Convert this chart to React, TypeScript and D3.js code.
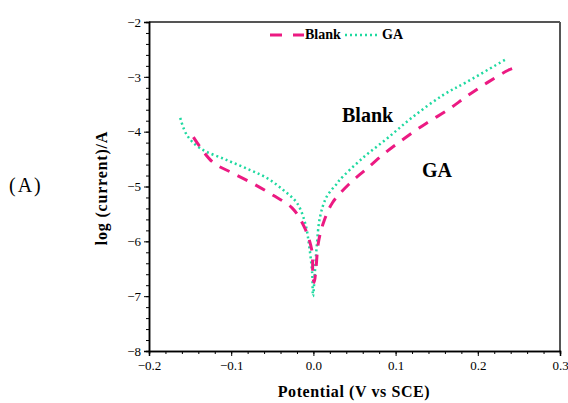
import React, { useRef, useEffect } from "react";
import * as d3 from "d3";

// Blank (dashed magenta): potential (V) / log(current)
const blankE = [-0.146, -0.123, -0.099, -0.073, -0.049, -0.026, -0.011, -0.002, -0.0005, 0.001, 0.003, 0.006, 0.012, 0.023, 0.0445, 0.063, 0.087, 0.111, 0.138, 0.164, 0.187, 0.211, 0.237, 0.244];
const blankLog = [-4.1, -4.55, -4.75, -4.95, -5.16, -5.39, -5.74, -6.16, -6.67, -6.75, -6.52, -6.03, -5.67, -5.3, -4.94, -4.7, -4.39, -4.12, -3.84, -3.6, -3.35, -3.11, -2.88, -2.84];

// GA (dotted green)
const gaE = [-0.162, -0.154, -0.138, -0.105, -0.077, -0.056, -0.037, -0.02, -0.01, -0.005, -0.0015, -0.0005, 0.002, 0.004, 0.008, 0.016, 0.029, 0.032, 0.06, 0.09, 0.121, 0.158, 0.187, 0.233];
const gaLog = [-3.75, -4.06, -4.3, -4.52, -4.7, -4.85, -5.06, -5.3, -5.67, -6.1, -6.58, -7.0, -6.52, -6.1, -5.56, -5.19, -4.94, -4.88, -4.48, -4.12, -3.73, -3.33, -3.09, -2.69];

const xTicks = [-0.2, -0.1, 0.0, 0.1, 0.2, 0.3];
const yTicks = [-2, -3, -4, -5, -6, -7, -8];

const W = 568;
const H = 403;
const serif = "'Liberation Serif', 'Times New Roman', serif";

export default function App() {
  const ref = useRef<SVGSVGElement>(null);

  useEffect(() => {
    const svg = d3.select(ref.current).html("");

    const x = d3.scaleLinear().domain([-0.2, 0.3]).range([149, 560]);
    const y = d3.scaleLinear().domain([-8, -2]).range([351, 22]);

    // frame top/right
    svg.append("line").attr("x1", 149).attr("x2", 560).attr("y1", 22).attr("y2", 22)
      .attr("stroke", "#555").attr("stroke-width", 2);
    svg.append("line").attr("x1", 560).attr("x2", 560).attr("y1", 22).attr("y2", 351)
      .attr("stroke", "#555").attr("stroke-width", 2);

    // x axis
    const xAxis = svg.append("g").attr("transform", `translate(0,351)`);
    xAxis.call(d3.axisBottom(x).tickValues(d3.range(-0.2, 0.3001, 0.02)).tickSize(3).tickFormat(() => ""));
    xAxis.append("g").call(
      d3.axisBottom(x).tickValues(xTicks).tickSize(5).tickFormat(d3.format(".1f"))
    );
    xAxis.selectAll(".domain").attr("stroke-width", 1.5);
    xAxis.selectAll("text").attr("font-family", serif).attr("font-size", 13).attr("fill", "#000").attr("dy", "0.85em");

    // y axis
    const yAxis = svg.append("g").attr("transform", `translate(149,0)`);
    yAxis.call(d3.axisLeft(y).tickValues(d3.range(-8, -1.999, 0.2)).tickSize(3).tickFormat(() => ""));
    yAxis.append("g").call(
      d3.axisLeft(y).tickValues(yTicks).tickSize(5).tickFormat(d3.format("d"))
    );
    yAxis.selectAll(".domain").attr("stroke-width", 1.5);
    yAxis.selectAll("text").attr("font-family", serif).attr("font-size", 13).attr("fill", "#000");

    const lineX = d3.line<[number, number]>().x((d) => x(d[0])).y((d) => y(d[1])).curve(d3.curveCatmullRom);

    const blank = blankE.map((e, i) => [e, blankLog[i]] as [number, number]);
    const ga = gaE.map((e, i) => [e, gaLog[i]] as [number, number]);

    svg.append("path").attr("d", lineX(ga)).attr("fill", "none")
      .attr("stroke", "#1fd9a0").attr("stroke-width", 2.5)
      .attr("stroke-dasharray", "2 3");
    svg.append("path").attr("d", lineX(blank)).attr("fill", "none")
      .attr("stroke", "#ec1a82").attr("stroke-width", 3)
      .attr("stroke-dasharray", "11 9");

    // legend
    svg.append("line").attr("x1", 270).attr("x2", 304).attr("y1", 35).attr("y2", 35)
      .attr("stroke", "#ec1a82").attr("stroke-width", 3).attr("stroke-dasharray", "12 11");
    svg.append("text").attr("x", 305).attr("y", 39).text("Blank")
      .attr("font-family", serif).attr("font-size", 14).attr("font-weight", "bold");
    svg.append("line").attr("x1", 345).attr("x2", 378).attr("y1", 35).attr("y2", 35)
      .attr("stroke", "#1fd9a0").attr("stroke-width", 2.5).attr("stroke-dasharray", "2 3");
    svg.append("text").attr("x", 382).attr("y", 39).text("GA")
      .attr("font-family", serif).attr("font-size", 14).attr("font-weight", "bold");

    // annotations
    svg.append("text").attr("x", 342).attr("y", 122).text("Blank")
      .attr("font-family", serif).attr("font-size", 20).attr("font-weight", "bold");
    svg.append("text").attr("x", 422).attr("y", 177).text("GA")
      .attr("font-family", serif).attr("font-size", 20).attr("font-weight", "bold");
    svg.append("text").attr("x", 9).attr("y", 192).text("(A)")
      .attr("font-family", serif).attr("font-size", 20).attr("letter-spacing", 2);

    // axis titles
    svg.append("text").attr("x", 354).attr("y", 397).attr("text-anchor", "middle")
      .text("Potential (V vs SCE)")
      .attr("font-family", serif).attr("font-size", 16).attr("font-weight", "bold")
      .attr("letter-spacing", 0.6);
    svg.append("text").attr("transform", `translate(107,188) rotate(-90)`).attr("text-anchor", "middle")
      .text("log (current)/A")
      .attr("font-family", serif).attr("font-size", 16).attr("font-weight", "bold")
      .attr("letter-spacing", 0.8);
  }, []);

  return (
    <svg
      ref={ref}
      width={W}
      height={H}
      style={{ position: "absolute", left: 0, top: 0, background: "#fff" }}
    />
  );
}
